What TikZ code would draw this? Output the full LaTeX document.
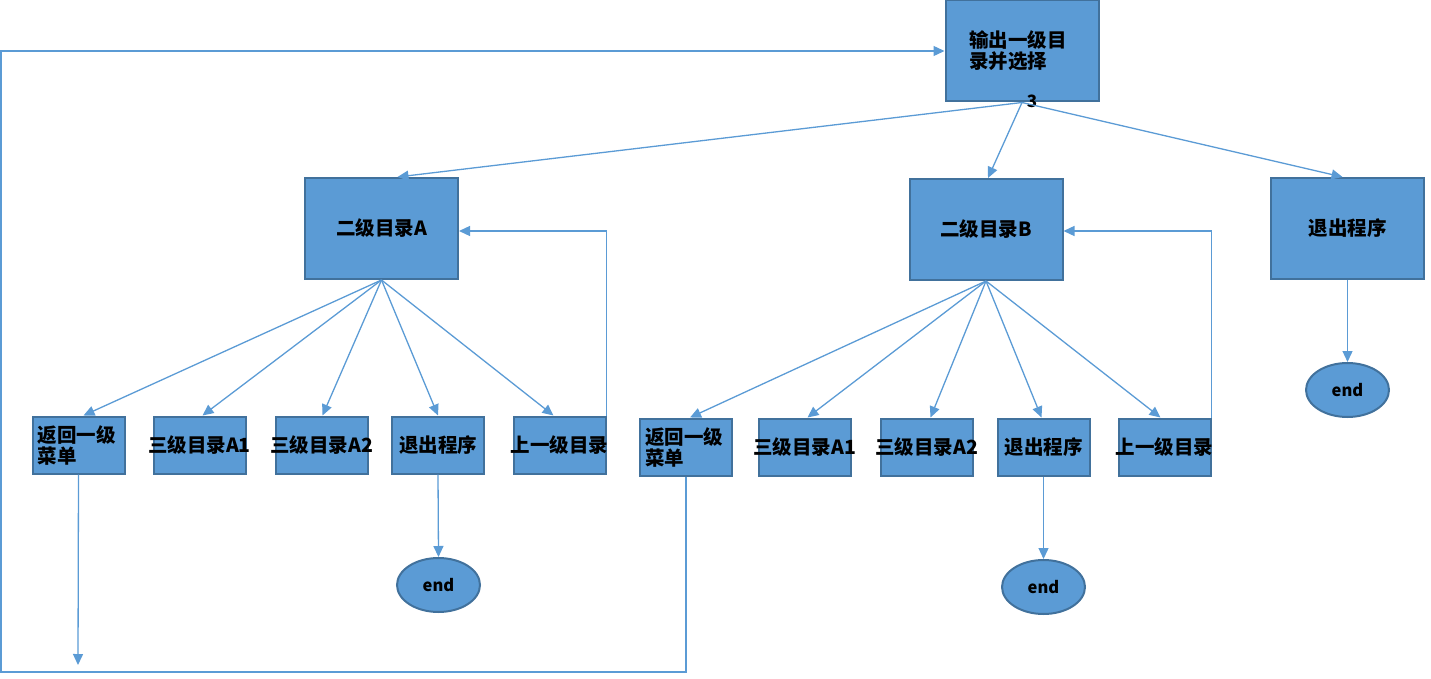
\documentclass[tikz,border=0pt]{standalone}
\usepackage{fontspec}
\setmainfont{Noto Sans CJK SC}
\usetikzlibrary{arrows.meta,shapes.geometric}
\definecolor{boxfill}{HTML}{5B9BD5}
\definecolor{boxline}{HTML}{41719C}
\tikzset{
  menubox/.style={draw=boxline, fill=boxfill, line width=2pt, inner sep=0pt,
    font=\fontsize{19.5pt}{21pt}\selectfont\bfseries},
  bigbox/.style={menubox, minimum width=153pt, minimum height=101pt},
  smallbox/.style={menubox, inner xsep=-8pt, minimum width=92pt, minimum height=57pt},
  endnode/.style={ellipse, draw=boxline, fill=boxfill, line width=2pt, inner sep=0pt,
    minimum width=83pt, minimum height=54pt, font=\fontsize{16.5pt}{18pt}\selectfont\bfseries},
  flow/.style={draw=boxfill, line width=1.3pt, -{Triangle[length=11pt,width=10pt]}},
  plain/.style={draw=boxfill, line width=1.3pt}
}
\begin{document}
\begin{tikzpicture}[x=1pt,y=-1pt]
			%%%%% START %%%%%
			\useasboundingbox (0,0) rectangle (1431,679);
			
			\node[bigbox, align=left] (top) at (1022,51) {输出一级目\hspace*{8pt}\\录并选择};
			\node[font=\fontsize{17pt}{18pt}\selectfont\bfseries] (lbl) at (1032,101) {3};
			
			\node[bigbox] (A) at (381.5,228.5) {二级目录A};
			\node[bigbox] (B) at (986,229.5) {二级目录B};
			\node[bigbox] (C) at (1347.5,228.5) {退出程序};
			
			\node[smallbox, align=left] (rA) at (78.5,445) {返回一级\hspace*{4pt}\\菜单};
			\node[smallbox] (aA1) at (199.5,445) {三级目录A1};
			\node[smallbox] (aA2) at (321.5,445) {三级目录A2};
			\node[smallbox] (qA) at (438,445) {退出程序};
			\node[smallbox] (uA) at (559.5,445) {上一级目录};
			
			\node[smallbox, align=left] (rB) at (686,447) {返回一级\hspace*{4pt}\\菜单};
			\node[smallbox] (bA1) at (804.5,447) {三级目录A1};
			\node[smallbox] (bA2) at (926.5,447) {三级目录A2};
			\node[smallbox] (qB) at (1043.5,447) {退出程序};
			\node[smallbox] (uB) at (1164.5,447) {上一级目录};
			
			\node[endnode] (endA) at (438.5,585) {end};
			\node[endnode] (endB) at (1043.5,587) {end};
			\node[endnode] (endC) at (1347.5,390) {end};
			
			\draw[flow] (top.south) -- ([xshift=16pt]A.north);
			\draw[flow] (top.south) -- ([xshift=2pt]B.north);
			\draw[flow] (top.south) -- ([xshift=-5pt]C.north);
			
			\draw[flow] (A.south) -- ([xshift=5pt]rA.north);
			\draw[flow] (A.south) -- ([xshift=3pt]aA1.north);
			\draw[flow] (A.south) -- ([xshift=1pt]aA2.north);
			\draw[flow] (A.south) -- (qA.north);
			\draw[flow] (A.south) -- ([xshift=-6pt]uA.north);
			
			\draw[flow] (B.south) -- ([xshift=4pt]rB.north);
			\draw[flow] (B.south) -- ([xshift=3pt]bA1.north);
			\draw[flow] (B.south) -- ([xshift=4pt]bA2.north);
			\draw[flow] (B.south) -- ([xshift=-2pt]qB.north);
			\draw[flow] (B.south) -- ([xshift=-4pt]uB.north);
			
			\draw[flow] (uA.north east) |- ([yshift=-2.5pt]A.east);
			\draw[flow] (uB.north east) |- ([yshift=-1.5pt]B.east);
			
			\draw[flow] (qA.south) -- (endA.north);
			\draw[flow] (qB.south) -- (endB.north);
			\draw[flow] (C.south) -- (endC.north);
			
			\coordinate (rAend) at (78,665);
			\draw[flow] (rA.south) -- (rAend);
			
			\coordinate (loopL) at (1,672);
			\draw[flow] (rB.south) |- (loopL) |- (top.west);
			
			%%%%% END %%%%%
		\end{tikzpicture}
\end{document}
